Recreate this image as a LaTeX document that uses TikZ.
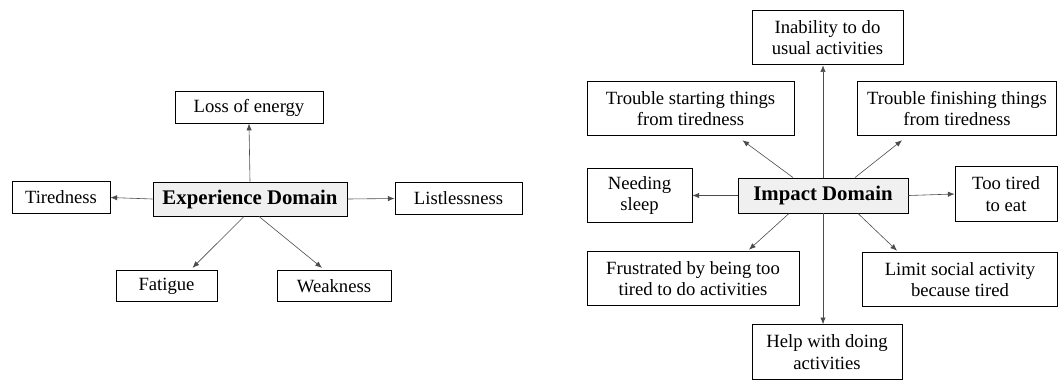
\documentclass[tikz,border=0pt]{standalone}
\usepackage{fontspec}
\setmainfont{Liberation Serif}
\usetikzlibrary{arrows.meta,calc}

\tikzset{
  box/.style={draw, line width=0.7pt, align=center, inner sep=0pt,
    font=\fontsize{14}{16.3}\selectfont},
  onerow/.style={minimum height=23.5pt},
  tworow/.style={minimum height=41pt},
  hubbox/.style={box, fill=gray!12, font=\fontsize{15.6}{18}\selectfont\bfseries},
  arr/.style={-{Latex[length=5pt,width=4pt]}, line width=0.45pt, black!70}
}

\begin{document}
\begin{tikzpicture}[x=0.75pt, y=-0.75pt]
  \useasboundingbox (0,0) rectangle (1058,380);

  %% ── Left: experience domain ────────────────────────────────
  \node[hubbox, minimum width=145.5pt, minimum height=25.5pt] (exp) at (250,199) {Experience Domain};
  \node[box, onerow, minimum width=111pt] (loss) at (249,107.5) {Loss of energy};
  \node[box, onerow, minimum width=73.5pt] (tired) at (61,197.5) {Tiredness};
  \node[box, onerow, minimum width=95.25pt] (list) at (458.5,198.5) {Listlessness};
  \node[box, onerow, minimum width=75.75pt] (fatigue) at (166.5,286) {Fatigue};
  \node[box, onerow, minimum width=85.5pt] (weak) at (334,286) {Weakness};
  %% arrows
  \draw[arr] (exp.north) -- (loss.south);
  \draw[arr] (exp.west) -- (tired.east);
  \draw[arr] (exp.east) -- (list.west);
  \draw[arr] ($(exp.south)+(-6,0)$) -- ($(fatigue.north)+(26,-2)$);
  \draw[arr] ($(exp.south)+(9,0)$) -- ($(weak.north)+(-12,-2)$);

  %% ── Right: impact domain ───────────────────────────────────
  \node[hubbox, minimum width=127.5pt, minimum height=26.25pt] (imp) at (823,195.5) {Impact Domain};
  \node[box, tworow, minimum width=113.25pt] (inab) at (827.5,37.5) {Inability to do\\usual activities};
  \node[box, tworow, minimum width=155.25pt] (start) at (690.5,108.5) {Trouble starting things\\from tiredness};
  \node[box, tworow, minimum width=149.25pt] (finish) at (957,108.5) {Trouble finishing things\\from tiredness};
  \node[box, tworow, minimum width=78.75pt] (need) at (639.5,195.5) {Needing\\sleep};
  \node[box, tworow, minimum width=76.5pt] (too) at (1006,194) {Too tired\\to eat};
  \node[box, tworow, minimum width=159pt] (frus) at (693,278.5) {Frustrated by being too\\tired to do activities};
  \node[box, tworow, minimum width=146.25pt] (limit) at (960,279.5) {Limit social activity\\because tired};
  \node[box, tworow, minimum width=112.5pt] (help) at (827,352) {Help with doing\\activities};
  %% arrows
  \draw[arr] (imp.north) -- (imp.north |- inab.south);
  \draw[arr] ($(imp.north)+(-30,0)$) -- ($(start.south)+(52,4)$);
  \draw[arr] ($(imp.north)+(32,0)$) -- ($(finish.south)+(-55,4)$);
  \draw[arr] (imp.west) -- (need.east);
  \draw[arr] (imp.east) -- (too.west);
  \draw[arr] ($(imp.south)+(-34,0)$) -- ($(frus.north)+(56,-1)$);
  \draw[arr] ($(imp.south)+(35,0)$) -- ($(limit.north)+(-63,-1)$);
  \draw[arr] (imp.south) -- (imp.south |- help.north);
\end{tikzpicture}
\end{document}
